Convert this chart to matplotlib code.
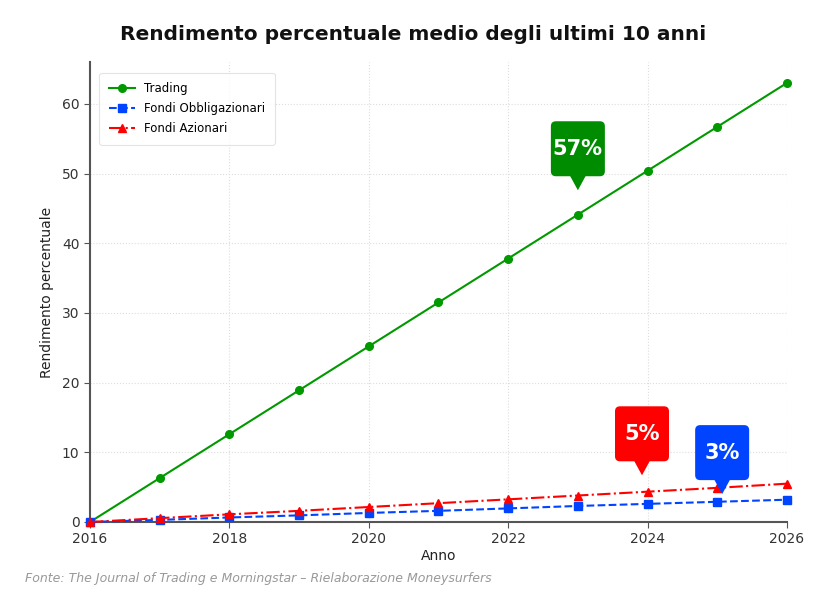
import matplotlib
matplotlib.use('Agg')
import matplotlib.pyplot as plt
from matplotlib.patches import FancyBboxPatch, Polygon

plt.rcParams['font.family'] = ['DejaVu Sans']

anni = [2016, 2017, 2018, 2019, 2020, 2021, 2022, 2023, 2024, 2025, 2026]
trading = [0, 6.3, 12.6, 18.9, 25.2, 31.5, 37.8, 44.1, 50.4, 56.7, 63.0]
obbligazionari = [0, 0.3, 0.65, 0.95, 1.3, 1.6, 1.95, 2.3, 2.6, 2.9, 3.2]
azionari = [0, 0.55, 1.1, 1.6, 2.15, 2.7, 3.25, 3.8, 4.35, 4.9, 5.5]

# etichette dei callout: testo, punta (anno, valore), colore
callout = [
    ('57%', 2023.0, 47.6, '#008c00'),
    ('5%', 2023.92, 6.7, '#ff0000'),
    ('3%', 2025.07, 4.0, '#0044ff'),
]

verde = '#009900'
blu = '#0044ff'
rosso = '#ff0000'

fig = plt.figure(figsize=(8.27, 5.98), dpi=100)
ax = fig.add_axes([0.1088, 0.1271, 0.8428, 0.7692])

ax.plot(anni, trading, color=verde, marker='o', ms=5.5, lw=1.5, label='Trading', clip_on=False, zorder=3)
ax.plot(anni, obbligazionari, color=blu, marker='s', ms=5.5, lw=1.5, ls='--', label='Fondi Obbligazionari', clip_on=False, zorder=3)
ax.plot(anni, azionari, color=rosso, marker='^', ms=5.5, lw=1.5, ls='-.', label='Fondi Azionari', clip_on=False, zorder=3)

ax.set_xlim(2016, 2026)
ax.set_ylim(0, 66)
ax.set_xticks(range(2016, 2027, 2))
ax.set_yticks(range(0, 61, 10))
ax.grid(True, ls=':', color='#dddddd', lw=0.8)
ax.set_axisbelow(True)
for s in ['top', 'right']:
    ax.spines[s].set_visible(False)
for s in ['left', 'bottom']:
    ax.spines[s].set_color('#555555')
    ax.spines[s].set_linewidth(1.5)
ax.tick_params(colors='#333333', labelsize=10, length=4, color='#555555')

ax.set_xlabel('Anno', fontsize=10, color='#222222', labelpad=2)
ax.set_ylabel('Rendimento percentuale', fontsize=10, color='#222222', labelpad=6)

leg = ax.legend(loc='upper left', fontsize=8.5, frameon=True, borderpad=0.8,
                labelspacing=0.6, handlelength=2.2, bbox_to_anchor=(0.005, 0.99))
leg.get_frame().set_edgecolor('#dddddd')
leg.get_frame().set_linewidth(0.8)

# dimensioni dei callout in pixel convertite in unita' dati
px_x = (2026 - 2016) / 697.0
px_y = 66 / 460.0
w, h, tip = 54 * px_x, 55 * px_y, 14 * px_y
half = 8 * px_x
for testo, x, y, col in callout:
    x0 = x - w / 2
    y0 = y + tip
    box = FancyBboxPatch((x0, y0), w, h, boxstyle='round,pad=0,rounding_size=%f' % (5 * px_x),
                         mutation_aspect=px_y / px_x, fc=col, ec='none', zorder=5, clip_on=False)
    ax.add_patch(box)
    ax.add_patch(Polygon([(x - half, y0 + 0.1), (x + half, y0 + 0.1), (x, y)], closed=True,
                         fc=col, ec='none', zorder=5, clip_on=False))
    ax.text(x, y0 + h / 2, testo, color='white', fontsize=15, fontweight='bold',
            ha='center', va='center', zorder=6)

fig.text(0.5, 0.942, 'Rendimento percentuale medio degli ultimi 10 anni', ha='center', va='center',
         fontsize=14.5, fontweight='bold', color='#111111')
fig.text(0.03, 0.033, 'Fonte: The Journal of Trading e Morningstar \u2013 Rielaborazione Moneysurfers',
         fontsize=9, style='italic', color='#999999', ha='left', va='center')

fig.savefig('out.png', dpi=100)
